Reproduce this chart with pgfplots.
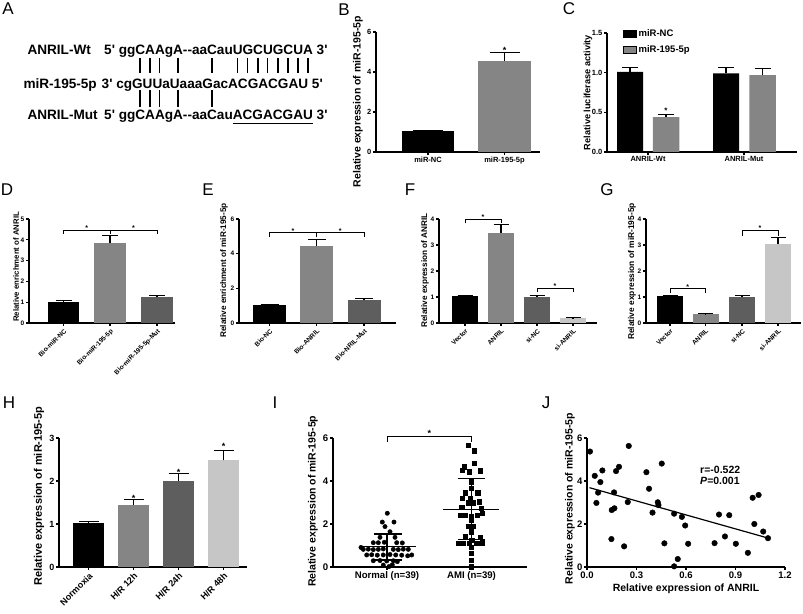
\documentclass[border=0pt]{standalone}
\usepackage{fontspec}
\setmainfont{Liberation Sans}
\usepackage{pgfplots}
\pgfplotsset{compat=1.18}
\newcommand\fs[1]{\fontsize{#1}{#1}\selectfont}
\newcommand\q{\textquotesingle}
\newlength\la \newlength\lb
\newcommand\sq{\bfseries\fs{13.6}}
\definecolor{g1}{HTML}{858585}
\definecolor{g2}{HTML}{5E5E5E}
\definecolor{g3}{HTML}{C6C6C6}
\pgfplotsset{
 prism/.style={scale only axis, clip=false, axis x line*=bottom, axis y line*=left,
   axis line style={line width=1.1pt}, tick style={line width=1.1pt,black},
   major tick length=3pt, tick align=outside,
   /pgf/number format/assume math mode=true, ymin=0,
   ylabel style={anchor=center},
   xticklabel style={inner sep=1.5pt}, yticklabel style={inner sep=1.5pt}},
 errb/.style={/pgfplots/error bars/y dir=plus, /pgfplots/error bars/y explicit,
   /pgfplots/error bars/error bar style={line width=1.1pt,black},
   /pgfplots/error bars/error mark options={rotate=90,line width=1.1pt,black,mark size=#1}},
 pbar/.style={ybar, bar shift=0pt, draw=none},
 rot/.style={xticklabel style={rotate=45, anchor=north east}},
}
\tikzset{st/.style={anchor=base, inner sep=0pt, font=\bfseries\fs{#1}}}
\newcommand\brk[4]{\draw[line width=1pt] (axis cs:#1,#4) -- (axis cs:#1,#3) -- (axis cs:#2,#3) -- (axis cs:#2,#4);}
\newcommand\mw[3]{\settowidth\la{\sq #2}\settowidth\lb{\sq #3}\pgfmathsetmacro#1{104+\la+0.5*\lb}}
\begin{document}
\mw\posA{5\q{} gg}{C}%
\mw\posB{5\q{} ggC}{A}%
\mw\posC{5\q{} ggCA}{A}%
\mw\posD{5\q{} ggCAAg}{A}%
\mw\posE{5\q{} ggCAAgA-{}-aa}{C}%
\mw\posF{5\q{} ggCAAgA-{}-aaCau}{U}%
\mw\posG{5\q{} ggCAAgA-{}-aaCauU}{G}%
\mw\posH{5\q{} ggCAAgA-{}-aaCauUG}{C}%
\mw\posI{5\q{} ggCAAgA-{}-aaCauUGC}{U}%
\mw\posJ{5\q{} ggCAAgA-{}-aaCauUGCU}{G}%
\mw\posK{5\q{} ggCAAgA-{}-aaCauUGCUG}{C}%
\mw\posL{5\q{} ggCAAgA-{}-aaCauUGCUGC}{U}%
\mw\posM{5\q{} ggCAAgA-{}-aaCauUGCUGCU}{A}%
\settowidth\la{\sq 5\q{} ggCAAgA-{}-aaCau}\settowidth\lb{\sq ACGACGAU}%
\pgfmathsetmacro\xa{104+\la}\pgfmathsetmacro\xb{104+\la+\lb}%
\begin{tikzpicture}[x=1pt,y=1pt]
\useasboundingbox (0,0) rectangle (803,613);
% panel letters
\foreach \t/\x/\y in {A/8/604,B/344/603,C/569/604,D/7/423,E/208/423,F/410/423,G/607/423,H/9/210,I/275/210,J/546/210}
  \node[font=\fs{17}] at (\x,\y) {\t};
% ---------- A ----------
\node[anchor=base west, inner sep=0pt, font=\sq] at (27.3,558.7) {ANRIL-Wt};
\node[anchor=base west, inner sep=0pt, font=\sq] at (104,558.7) {5\q{} ggCAAgA-{}-aaCauUGCUGCUA 3\q{}};
\node[anchor=base west, inner sep=0pt, font=\sq] at (23.3,524.7) {miR-195-5p};
\node[anchor=base west, inner sep=0pt, font=\sq] at (101.5,524.7) {3\q{} cgGUUaUaaaGacACGACGAU 5\q{}};
\node[anchor=base west, inner sep=0pt, font=\sq] at (27.3,493) {ANRIL-Mut};
\node[anchor=base west, inner sep=0pt, font=\sq] at (104,493) {5\q{} ggCAAgA-{}-aaCauACGACGAU 3\q{}};
\foreach \x in {\posA,\posB,\posC,\posD,\posE}{
  \draw[line width=1.4pt] (\x,554.7) -- (\x,539.7);
  \draw[line width=1.4pt] (\x,523) -- (\x,506.3);}
\foreach \x in {\posF,\posG,\posH,\posI,\posJ,\posK,\posL,\posM}
  \draw[line width=1.4pt] (\x,554.7) -- (\x,539.7);
\draw[line width=1.3pt] (\xa,489.7) -- (\xb,489.7);
% ---------- B ----------
\begin{axis}[prism, at={(376pt,461pt)}, anchor=south west, width=164pt, height=120pt,
  xmin=0, xmax=164, ymax=6, ytick={0,2,4,6}, xtick={52,128.5}, xticklabels={miR-NC,miR-195-5p},
  ticklabel style={font=\bfseries\fs{7.5}},
  ylabel={Relative expression of miR-195-5p},
  ylabel style={font=\bfseries\fs{10.5}, at={(axis description cs:-0.11,0.42)}}]
\addplot[pbar, bar width=52, fill=black, errb=15pt] coordinates {(52,1.03) +- (0,0.05)};
\addplot[pbar, bar width=53, fill=g1, errb=15pt] coordinates {(128.5,4.55) +- (0,0.42)};
\node[st=9] at (axis cs:128.5,4.93) {*};
\end{axis}
% ---------- C ----------
\begin{axis}[prism, at={(607pt,461pt)}, anchor=south west, width=190pt, height=119pt,
  xmin=0, xmax=190, ymax=1.5, ytick={0,0.5,1,1.5},
  yticklabel style={/pgf/number format/.cd, fixed, fixed zerofill, precision=1},
  xtick={41,137}, xticklabels={ANRIL-Wt,ANRIL-Mut},
  ticklabel style={font=\bfseries\fs{7.5}},
  ylabel={Relative luciferase activity},
  ylabel style={font=\bfseries\fs{9.2}, at={(axis description cs:-0.1,0.5)}},
  legend style={at={(axis description cs:0.084,1.05)}, anchor=north west, draw=none, fill=none,
    inner sep=0pt, font=\bfseries\fs{9.5}, row sep=4pt},
  legend cell align=left,
  legend image code/.code={\fill[#1] (0pt,-3.5pt) rectangle (13pt,3.5pt);}]
\addplot[pbar, bar width=26, fill=black, forget plot, errb=8pt] coordinates {(23,1.01) +- (0,0.05) (119,0.99) +- (0,0.08)};
\addplot[pbar, bar width=26.5, fill=g1, forget plot, errb=8pt] coordinates {(59,0.44) +- (0,0.03) (155.5,0.97) +- (0,0.08)};
\addlegendimage{fill=black}\addlegendentry{miR-NC}
\addlegendimage{fill=g1}\addlegendentry{miR-195-5p}
\node[st=8] at (axis cs:59,0.48) {*};
\end{axis}
% ---------- D ----------
\begin{axis}[prism, rot, at={(29pt,290pt)}, anchor=south west, width=146pt, height=104pt,
  xmin=0, xmax=146, ymax=5, ytick={0,1,2,3,4,5}, xtick={34.5,81,128},
  xticklabels={Bio-miR-NC,Bio-miR-195-5p,Bio-miR-195-5p-Mut},
  ticklabel style={font=\bfseries\fs{6.5}},
  ylabel={Relative enrichment of ANRIL},
  ylabel style={font=\bfseries\fs{7.8}, at={(axis description cs:-0.089,0.54)}}]
\addplot[pbar, bar width=31, fill=black, errb=8pt] coordinates {(34.5,1.03) +- (0,0.05)};
\addplot[pbar, bar width=32, fill=g1, errb=8pt] coordinates {(81,3.87) +- (0,0.35)};
\addplot[pbar, bar width=32, fill=g2, errb=8pt] coordinates {(128,1.23) +- (0,0.10)};
\brk{34.5}{81}{4.47}{4.28}
\brk{81}{128}{4.47}{4.28}
\node[st=7] at (axis cs:57.75,4.45) {*};
\node[st=7] at (axis cs:104.5,4.45) {*};
\end{axis}
% ---------- E ----------
\begin{axis}[prism, rot, at={(239pt,290pt)}, anchor=south west, width=157pt, height=104pt,
  xmin=0, xmax=157, ymax=6, ytick={0,2,4,6}, xtick={30.5,77.5,125},
  xticklabels={Bio-NC,Bio-ANRIL,Bio-NRIL-Mut},
  ticklabel style={font=\bfseries\fs{6.5}},
  ylabel={Relative enrichment of miR-195-5p},
  ylabel style={font=\bfseries\fs{8.2}, at={(axis description cs:-0.0955,0.505)}}]
\addplot[pbar, bar width=33, fill=black, errb=9pt] coordinates {(30.5,1.03) +- (0,0.05)};
\addplot[pbar, bar width=33, fill=g1, errb=9pt] coordinates {(77.5,4.42) +- (0,0.40)};
\addplot[pbar, bar width=33, fill=g2, errb=9pt] coordinates {(125,1.30) +- (0,0.10)};
\brk{30.5}{77.5}{5.21}{4.94}
\brk{77.5}{125}{5.21}{4.94}
\node[st=7] at (axis cs:54,5.19) {*};
\node[st=7] at (axis cs:101.25,5.19) {*};
\end{axis}
% ---------- F ----------
\begin{axis}[prism, rot, at={(439pt,290pt)}, anchor=south west, width=158pt, height=104pt,
  xmin=0, xmax=158, ymax=4, ytick={0,1,2,3,4}, xtick={26,62,98,134},
  xticklabels={Vector,ANRIL,si-NC,si-ANRIL},
  ticklabel style={font=\bfseries\fs{6.5}},
  ylabel={Relative expression of ANRIL},
  ylabel style={font=\bfseries\fs{8.2}, at={(axis description cs:-0.0886,0.505)}}]
\addplot[pbar, bar width=26, fill=black, errb=7.5pt] coordinates {(26,1.03) +- (0,0.04)};
\addplot[pbar, bar width=26, fill=g1, errb=7.5pt] coordinates {(62,3.47) +- (0,0.32)};
\addplot[pbar, bar width=26, fill=g2, errb=7.5pt] coordinates {(98,1.00) +- (0,0.06)};
\addplot[pbar, bar width=26, fill=g3, errb=7.5pt] coordinates {(134,0.19) +- (0,0.015)};
\brk{26}{62}{3.99}{3.83}
\brk{98}{134}{1.33}{1.18}
\node[st=7] at (axis cs:44,3.98) {*};
\node[st=7] at (axis cs:116,1.32) {*};
\end{axis}
% ---------- G ----------
\begin{axis}[prism, rot, at={(646pt,290pt)}, anchor=south west, width=155pt, height=104pt,
  xmin=0, xmax=155, ymax=4, ytick={0,1,2,3,4}, xtick={24,59.5,96,132},
  xticklabels={Vector,ANRIL,si-NC,si-ANRIL},
  ticklabel style={font=\bfseries\fs{6.5}},
  ylabel={Relative expression of miR-195-5p},
  ylabel style={font=\bfseries\fs{8.4}, at={(axis description cs:-0.0903,0.495)}}]
\addplot[pbar, bar width=26, fill=black, errb=7.5pt] coordinates {(24,1.03) +- (0,0.04)};
\addplot[pbar, bar width=26, fill=g1, errb=7.5pt] coordinates {(59.5,0.33) +- (0,0.02)};
\addplot[pbar, bar width=26, fill=g2, errb=7.5pt] coordinates {(96,0.99) +- (0,0.07)};
\addplot[pbar, bar width=26, fill=g3, errb=7.5pt] coordinates {(132,3.03) +- (0,0.27)};
\brk{24}{59.5}{1.31}{1.14}
\brk{96}{132}{3.55}{3.36}
\node[st=7] at (axis cs:41.75,1.30) {*};
\node[st=7] at (axis cs:114,3.54) {*};
\end{axis}
% ---------- H ----------
\begin{axis}[prism, rot, at={(59pt,46pt)}, anchor=south west, width=188pt, height=129pt,
  xmin=0, xmax=188, ymax=3, ytick={0,1,2,3}, xtick={29.5,74.5,119.5,164.5},
  xticklabels={Normoxia,H/R 12h,H/R 24h,H/R 48h},
  ticklabel style={font=\bfseries\fs{9}},
  ylabel={Relative expression of miR-195-5p},
  ylabel style={font=\bfseries\fs{11}, at={(axis description cs:-0.106,0.55)}}]
\addplot[pbar, bar width=31, fill=black, errb=10pt] coordinates {(29.5,1.02) +- (0,0.04)};
\addplot[pbar, bar width=31, fill=g1, errb=10pt] coordinates {(74.5,1.45) +- (0,0.12)};
\addplot[pbar, bar width=31, fill=g2, errb=10pt] coordinates {(119.5,2.00) +- (0,0.17)};
\addplot[pbar, bar width=31, fill=g3, errb=10pt] coordinates {(164.5,2.48) +- (0,0.23)};
\node[st=9] at (axis cs:74.5,1.52) {*};
\node[st=9] at (axis cs:119.5,2.13) {*};
\node[st=9] at (axis cs:164.5,2.73) {*};
\end{axis}
% ---------- I ----------
\begin{axis}[prism, at={(333pt,46pt)}, anchor=south west, width=194pt, height=129pt,
  xmin=0, xmax=194, ymax=6, ytick={0,2,4,6}, xtick={54,138.5},
  xticklabels={Normal (n=39),AMI (n=39)},
  ticklabel style={font=\bfseries\fs{9.6}},
  ylabel={Relative expression of miR-195-5p},
  ylabel style={font=\bfseries\fs{10.5}, at={(axis description cs:-0.103,0.51)}}]
\addplot[only marks, mark=*, mark size=2.2pt, black] coordinates {
(54.3,2.50) (49.3,2.09) (61,2.09) (52,1.88) (57,1.64) (47,1.38) (62,1.38)
(40.3,1.13) (45.3,1.13) (51.3,1.15) (63.7,1.13) (69.3,1.12) (28,0.91)
(30.3,0.82) (35.3,0.83) (40.3,0.81) (45.3,0.82) (50.3,0.84) (60.3,0.82)
(65.3,0.81) (70.3,0.83) (75.3,0.82) (33.7,0.56) (38.7,0.57) (44.3,0.55)
(50.3,0.56) (57,0.58) (62.7,0.56) (68.7,0.55) (74.7,0.52) (78.7,0.56)
(40.3,0.29) (47,0.30) (53.7,0.28) (60.3,0.29) (64.3,0.25) (50.3,0.09)
(56,0.02) (59.3,0.10)};
\addplot[only marks, mark=square*, mark size=2.2pt, black] coordinates {
(135.3,5.67) (141,5.41) (141,4.82) (131.3,4.67) (129.3,4.51) (136,4.43)
(147,4.47) (138,3.97) (138,3.66) (132,3.46) (144.7,3.46) (129.3,3.19)
(137,3.19) (135.3,2.99) (140.3,2.99) (146.3,3.04) (128.7,2.78) (148,2.73)
(127,2.42) (132,2.42) (138,2.37) (144.3,2.42) (149.3,2.50) (138,2.19)
(135.3,1.91) (140.3,1.91) (138,1.64) (132,1.41) (147,1.38) (125.3,1.10)
(130.3,1.10) (136,1.10) (143.7,1.10) (149.3,1.13) (138.7,1.26) (138,0.91)
(138,0.64) (138,0.33) (138,0.02)};
\addplot[black, line width=1.3pt] coordinates {(27,0.95) (83,0.95)};
\addplot[black, line width=1.3pt] coordinates {(41,0.33) (69,0.33)};
\addplot[black, line width=1.3pt] coordinates {(41,1.53) (69,1.53)};
\addplot[black, line width=1.3pt] coordinates {(54,0.33) (54,1.53)};
\addplot[black, line width=1.3pt] coordinates {(110,2.68) (166,2.68)};
\addplot[black, line width=1.3pt] coordinates {(124.5,1.29) (152,1.29)};
\addplot[black, line width=1.3pt] coordinates {(124.5,4.12) (152,4.12)};
\addplot[black, line width=1.3pt] coordinates {(138.5,1.29) (138.5,4.12)};
\brk{54}{138.5}{6.09}{5.83}
\node[st=9] at (axis cs:96.25,6.07) {*};
\end{axis}
% ---------- J ----------
\begin{axis}[prism, at={(587pt,46pt)}, anchor=south west, width=198pt, height=129pt,
  xmin=0, xmax=1.2, ymax=6, ytick={0,2,4,6}, xtick={0,0.3,0.6,0.9,1.2},
  xticklabel style={/pgf/number format/.cd, fixed, fixed zerofill, precision=1},
  ticklabel style={font=\bfseries\fs{9.5}},
  xlabel={Relative expression of ANRIL},
  xlabel style={font=\bfseries\fs{10.5}},
  ylabel={Relative expression of miR-195-5p},
  ylabel style={font=\bfseries\fs{10.5}, at={(axis description cs:-0.0859,0.53)}}]
\addplot[only marks, mark=*, mark size=2.8pt, black] coordinates {
(0.018,5.37) (0.047,4.24) (0.093,4.49) (0.081,3.95) (0.067,3.46) (0.057,2.98)
(0.148,1.30) (0.150,2.65) (0.166,2.73) (0.164,3.47) (0.176,4.46) (0.194,4.66)
(0.225,0.96) (0.253,5.63) (0.247,3.02) (0.360,4.41) (0.376,3.64) (0.397,2.53)
(0.429,3.01) (0.433,2.88) (0.453,4.81) (0.469,1.10) (0.528,2.48) (0.528,0.03)
(0.550,0.37) (0.575,2.33) (0.595,1.93) (0.613,1.08) (0.773,1.11) (0.800,2.44)
(0.836,1.42) (0.862,2.41) (0.902,1.08) (0.975,0.66) (1.004,3.22) (1.014,2.00)
(1.040,3.35) (1.068,1.65) (1.097,1.34)};
\addplot[black, line width=1.2pt] coordinates {(0.015,3.69) (1.10,1.34)};
\node[anchor=west, inner sep=0pt, font=\bfseries\fs{10.5}] at (axis cs:0.685,4.54) {r=-0.522};
\node[anchor=west, inner sep=0pt, font=\bfseries\fs{10.5}] at (axis cs:0.685,4.01) {\textit{P}=0.001};
\end{axis}
\end{tikzpicture}
\end{document}
